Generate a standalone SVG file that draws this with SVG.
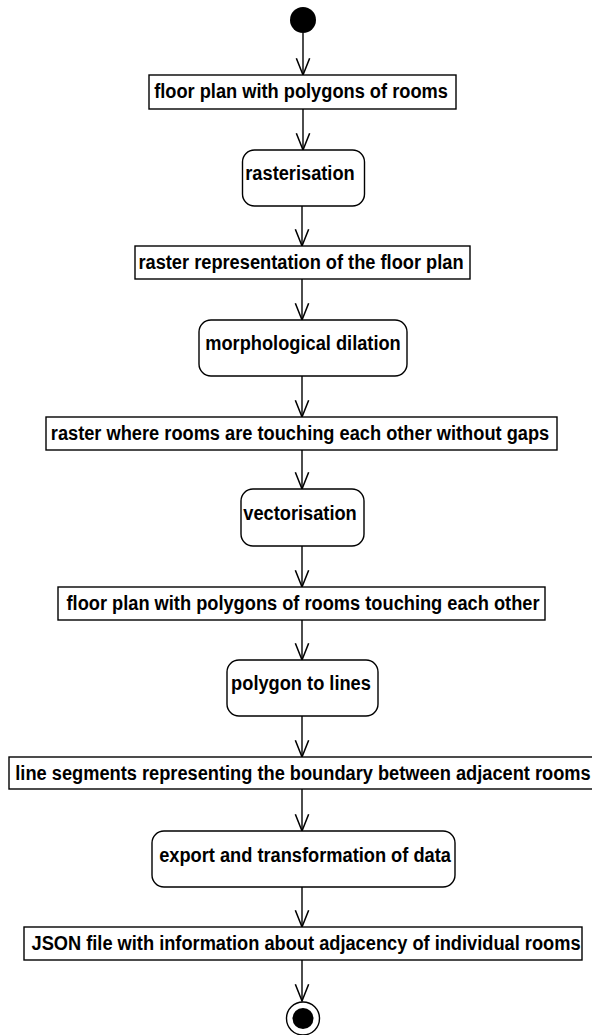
<svg xmlns="http://www.w3.org/2000/svg" width="592" height="1035" viewBox="0 0 592 1035">
  <style>
    .obj { fill: #fff; stroke: #000; stroke-width: 1.4; }
    .act { fill: #fff; stroke: #000; stroke-width: 1.4; }
    .lbl { font-family: "Liberation Sans", Arial, sans-serif; font-weight: bold; font-size: 20.5px; fill: #000; text-anchor: middle; }
    .flow { stroke: #000; stroke-width: 1.4; fill: none; marker-end: url(#open); }
  </style>
  <defs>
    <marker id="open" markerUnits="userSpaceOnUse" orient="auto" refX="0" refY="0" markerWidth="20" markerHeight="20" viewBox="-16 -8 18 16" overflow="visible">
      <path d="M-15,-6 L0,0 L-15,6" fill="none" stroke="#000" stroke-width="1.4"/>
    </marker>
  </defs>

  <!-- control flow -->
  <g id="connectors">
    <line class="flow" x1="303" y1="33" x2="303" y2="75"/>
    <line class="flow" x1="303" y1="109" x2="303" y2="150"/>
    <line class="flow" x1="302" y1="206" x2="302" y2="246"/>
    <line class="flow" x1="302" y1="279" x2="302" y2="320"/>
    <line class="flow" x1="302" y1="376" x2="302" y2="417"/>
    <line class="flow" x1="302" y1="450" x2="302" y2="489"/>
    <line class="flow" x1="302" y1="546" x2="302" y2="587"/>
    <line class="flow" x1="302" y1="620" x2="302" y2="660"/>
    <line class="flow" x1="302" y1="716" x2="302" y2="757"/>
    <line class="flow" x1="302" y1="789" x2="302" y2="831"/>
    <line class="flow" x1="302" y1="887" x2="302" y2="927"/>
    <line class="flow" x1="302" y1="960" x2="302" y2="1001"/>
  </g>

  <g id="start">
    <circle cx="303" cy="20" r="13" fill="#000"/>
  </g>

  <g id="floor-plan">
    <rect class="obj" x="149" y="75" width="307" height="34"/>
    <text class="lbl" transform="translate(301 97.5) scale(0.89 1)">floor plan with polygons of rooms</text>
  </g>

  <g id="rasterisation">
    <rect class="act" x="242.5" y="150" width="122" height="56" rx="12"/>
    <text class="lbl" transform="translate(300 179.5) scale(0.89 1)">rasterisation</text>
  </g>

  <g id="raster-representation">
    <rect class="obj" x="135" y="246" width="335" height="33"/>
    <text class="lbl" transform="translate(301 269) scale(0.89 1)">raster representation of the floor plan</text>
  </g>

  <g id="dilation">
    <rect class="act" x="199" y="320" width="208" height="56" rx="12"/>
    <text class="lbl" transform="translate(303 349.5) scale(0.89 1)">morphological dilation</text>
  </g>

  <g id="raster-touching">
    <rect class="obj" x="46" y="417" width="511" height="33"/>
    <text class="lbl" transform="translate(300 440) scale(0.89 1)">raster where rooms are touching each other without gaps</text>
  </g>

  <g id="vectorisation">
    <rect class="act" x="241" y="489" width="123" height="57" rx="12"/>
    <text class="lbl" transform="translate(300 519.5) scale(0.89 1)">vectorisation</text>
  </g>

  <g id="polygons-touching">
    <rect class="obj" x="58" y="587" width="487" height="33"/>
    <text class="lbl" transform="translate(303 610) scale(0.89 1)">floor plan with polygons of rooms touching each other</text>
  </g>

  <g id="polygon-to-lines">
    <rect class="act" x="227" y="660" width="151" height="56" rx="12"/>
    <text class="lbl" transform="translate(301 690) scale(0.89 1)">polygon to lines</text>
  </g>

  <g id="line-segments">
    <rect class="obj" x="9" y="757" width="590" height="32"/>
    <text class="lbl" transform="translate(303 779.5) scale(0.89 1)">line segments representing the boundary between adjacent rooms</text>
  </g>

  <g id="export">
    <rect class="act" x="152" y="831" width="303" height="56" rx="12"/>
    <text class="lbl" transform="translate(305 861.5) scale(0.89 1)">export and transformation of data</text>
  </g>

  <g id="json-file">
    <rect class="obj" x="24" y="927" width="558" height="33"/>
    <text class="lbl" transform="translate(306 950) scale(0.89 1)">JSON file with information about adjacency of individual rooms</text>
  </g>

  <g id="end">
    <circle cx="303" cy="1018.5" r="16.5" fill="#fff" stroke="#000" stroke-width="1.4"/>
    <circle cx="303" cy="1018.5" r="10.5" fill="#000"/>
  </g>
</svg>
